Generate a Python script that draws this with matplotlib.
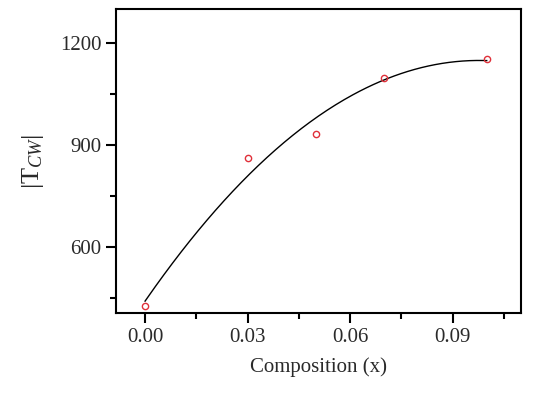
import matplotlib
matplotlib.use('Agg')
import matplotlib.pyplot as plt
import numpy as np
from matplotlib.ticker import MultipleLocator

# measured points
composition = [0.00, 0.03, 0.05, 0.07, 0.10]
t_cw = [426, 860, 932, 1096, 1153]

# second order polynomial fit of the points (as in the original)
coef = np.polyfit(composition, t_cw, 2)
fit_x = np.linspace(min(composition), max(composition), 200)
fit_y = np.polyval(coef, fit_x)

plt.rcParams['font.family'] = ['Liberation Serif', 'DejaVu Serif']
plt.rcParams['mathtext.fontset'] = 'custom'
plt.rcParams['mathtext.rm'] = 'Liberation Serif'
plt.rcParams['mathtext.it'] = 'Liberation Serif:italic'

fig = plt.figure(figsize=(5.46, 3.94), dpi=100)
ax = fig.add_axes([0.2125, 0.2056, 0.7415, 0.7716])

ax.plot(fit_x, fit_y, color='black', lw=1.0)
ax.plot(composition, t_cw, 'o', ms=4.5, mfc='none', mec='#e0303a', mew=1.0)

ax.set_xlim(-0.0085, 0.11)
ax.set_ylim(405, 1300)
ax.xaxis.set_minor_locator(MultipleLocator(0.015))
ax.yaxis.set_minor_locator(MultipleLocator(150))
ax.set_xticks([0.0, 0.03, 0.06, 0.09])
ax.set_xticklabels(['0.00', '0.03', '0.06', '0.09'])
ax.set_yticks([600, 900, 1200])

for s in ax.spines.values():
    s.set_linewidth(1.5)
ax.tick_params(which='major', direction='out', length=7, width=1.5, labelsize=15, labelcolor='#2a2a2a')
ax.tick_params(which='minor', direction='out', length=4.5, width=1.5)

ax.set_xlabel('Composition (x)', fontsize=15, labelpad=8, color='#2a2a2a')
ax.set_ylabel(r'$|\mathrm{T}_{CW}|$', fontsize=19, labelpad=10, color='#2a2a2a')

plt.savefig('out.png', dpi=100)
